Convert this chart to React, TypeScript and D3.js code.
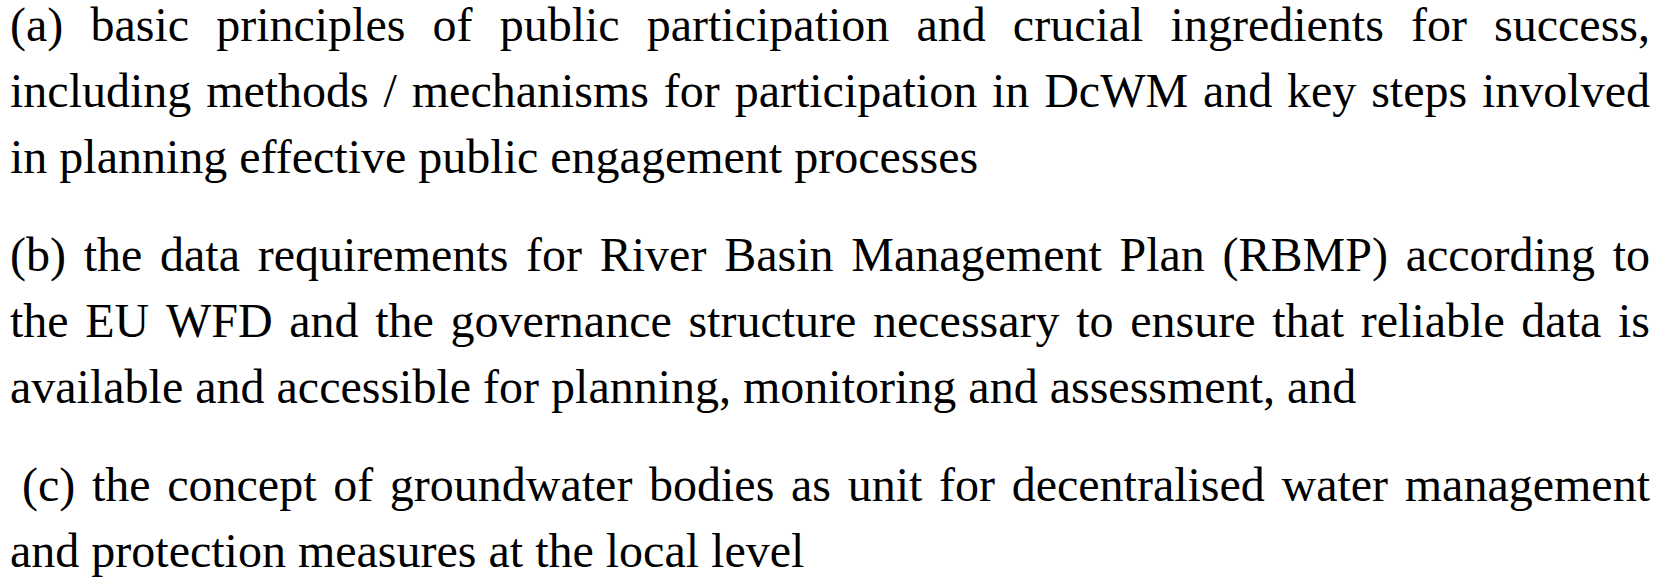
import React, { useEffect, useRef } from "react";
import * as d3 from "d3";

// paragraphs, one string per printed line
const paraA = [
  "(a) basic principles of public participation and crucial ingredients for success,",
  "including methods / mechanisms for participation in DcWM and key steps involved",
  "in planning effective public engagement processes",
];
const paraB = [
  "(b) the data requirements for River Basin Management Plan (RBMP) according to",
  "the EU WFD and the governance structure necessary to ensure that reliable data is",
  "available and accessible for planning, monitoring and assessment, and",
];
const paraC = [
  " (c) the concept of groundwater bodies as unit for decentralised water management",
  "and protection measures at the local level",
];
// line slot of every line (1.5 slot gap between paragraphs)
const slotsA = [0, 1, 2];
const slotsB = [3.5, 4.5, 5.5];
const slotsC = [7, 8];

const W = 1668;
const H = 578;
const FONT = "'Liberation Serif', 'Times New Roman', serif";
const SIZE = 48;

const App: React.FC = () => {
  const svgRef = useRef<SVGSVGElement | null>(null);

  useEffect(() => {
    const svg = d3.select(svgRef.current);
    svg.selectAll("*").remove();

    const y = d3.scaleLinear().domain([0, 8]).range([41, 567]);
    const left = 10;
    const right = 1650;

    const rows: { text: string; slot: number; justify: boolean }[] = [];
    [
      [paraA, slotsA],
      [paraB, slotsB],
      [paraC, slotsC],
    ].forEach(([lines, slots]) => {
      (lines as string[]).forEach((t, i) => {
        rows.push({ text: t, slot: (slots as number[])[i], justify: i < (lines as string[]).length - 1 });
      });
    });

    const g = svg
      .append("g")
      .attr("font-family", FONT)
      .attr("font-size", SIZE)
      .attr("fill", "#000");

    rows.forEach((row) => {
      // a leading space in the source shifts the line by one space width
      const indent = row.text.startsWith(" ") ? SIZE * 0.25 : 0;
      const words = row.text.trim().split(" ");
      const by = y(row.slot);

      if (!row.justify) {
        g.append("text")
          .attr("x", left + indent)
          .attr("y", by)
          .text(row.text.trim());
        return;
      }

      // justified: spread the words between the two margins
      const nodes = words.map((w) => g.append("text").attr("y", by).text(w));
      const widths = nodes.map((n) => (n.node() as SVGTextElement).getComputedTextLength());
      const total = d3.sum(widths);
      const gap = (right - left - indent - total) / (words.length - 1);
      let x = left + indent;
      nodes.forEach((n, i) => {
        n.attr("x", x);
        x += widths[i] + gap;
      });
    });
  }, []);

  return (
    <svg
      ref={svgRef}
      width={W}
      height={H}
      style={{ position: "absolute", left: 0, top: 0, display: "block", background: "#fff" }}
    />
  );
};

export default App;
